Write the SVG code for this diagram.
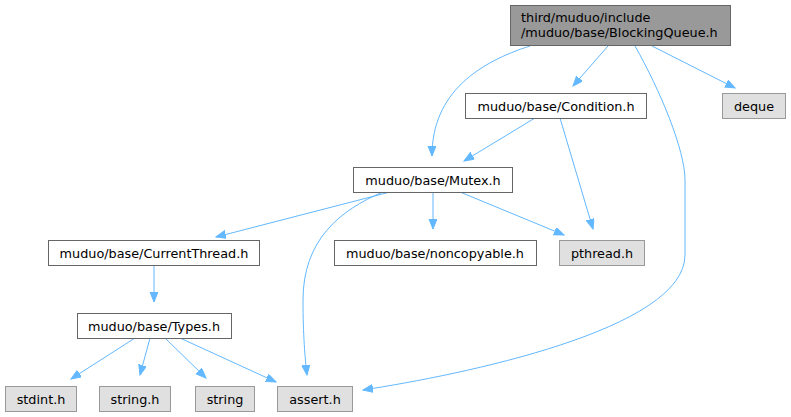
<svg xmlns="http://www.w3.org/2000/svg" width="791" height="417" viewBox="0 0 791 417">
<style>
text{font-family:"DejaVu Sans",sans-serif;font-size:12.8px;fill:#000}
.n rect{fill:#fff;stroke:#666;stroke-width:1}
.s rect{fill:#e0e0e0;stroke:#999;stroke-width:1}
.e path{fill:none;stroke:#63b8ff;stroke-width:1}
</style>
<defs>
<marker id="a" markerUnits="userSpaceOnUse" markerWidth="11" markerHeight="9" refX="10" refY="4" orient="auto">
<path d="M0,0 L10,4 L0,8 z" fill="#63b8ff" stroke="#63b8ff"/>
</marker>
</defs>
<g class="e" id="edges">
<path d="M530,46 C480,62 432,92 432,156" marker-end="url(#a)"/>
<path d="M608,46 L573,86" marker-end="url(#a)"/>
<path d="M635,46 C660,90 685,150 685,180 L685,255 C685,330 460,375 363,390" marker-end="url(#a)"/>
<path d="M652,46 L735,88" marker-end="url(#a)"/>
<path d="M535,118 L464,161" marker-end="url(#a)"/>
<path d="M560,118 L593,229" marker-end="url(#a)"/>
<path d="M390,192 L216,237" marker-end="url(#a)"/>
<path d="M433,192 L433,229" marker-end="url(#a)"/>
<path d="M460,192 L564,235" marker-end="url(#a)"/>
<path d="M383,192 C340,210 303,240 303,300 C303,335 305,358 307,375" marker-end="url(#a)"/>
<path d="M154,265 L154,302" marker-end="url(#a)"/>
<path d="M135,338 L71,379" marker-end="url(#a)"/>
<path d="M150,338 L140,375" marker-end="url(#a)"/>
<path d="M165,338 L206,378" marker-end="url(#a)"/>
<path d="M180,338 L276,382" marker-end="url(#a)"/>
</g>
<g id="blockingqueue"><rect x="510.5" y="5.5" width="220" height="40" fill="#999" stroke="#666"/><text x="521" y="22">third/muduo/include</text><text x="521" y="36.5">/muduo/base/BlockingQueue.h</text></g>
<g id="condition" class="n"><rect x="465.5" y="93.5" width="181" height="25"/><text x="556" y="110.5" text-anchor="middle">muduo/base/Condition.h</text></g>
<g id="deque" class="s"><rect x="722.5" y="93.5" width="63" height="25"/><text x="754" y="110.5" text-anchor="middle">deque</text></g>
<g id="mutex" class="n"><rect x="353.5" y="167.5" width="159" height="25"/><text x="433" y="184.5" text-anchor="middle">muduo/base/Mutex.h</text></g>
<g id="currentthread" class="n"><rect x="48.5" y="240.5" width="211" height="25"/><text x="154" y="257.5" text-anchor="middle">muduo/base/CurrentThread.h</text></g>
<g id="noncopyable" class="n"><rect x="334.5" y="240.5" width="202" height="25"/><text x="435" y="257.5" text-anchor="middle">muduo/base/noncopyable.h</text></g>
<g id="pthread" class="s"><rect x="559.5" y="240.5" width="85" height="25"/><text x="602" y="257.5" text-anchor="middle">pthread.h</text></g>
<g id="types" class="n"><rect x="77.5" y="313.5" width="154" height="25"/><text x="154" y="330.5" text-anchor="middle">muduo/base/Types.h</text></g>
<g id="stdint" class="s"><rect x="5.5" y="386.5" width="71" height="25"/><text x="41" y="403.5" text-anchor="middle">stdint.h</text></g>
<g id="stringh" class="s"><rect x="99.5" y="386.5" width="71" height="25"/><text x="135" y="403.5" text-anchor="middle">string.h</text></g>
<g id="string" class="s"><rect x="195.5" y="386.5" width="59" height="25"/><text x="225" y="403.5" text-anchor="middle">string</text></g>
<g id="assert" class="s"><rect x="277.5" y="386.5" width="75" height="25"/><text x="315" y="403.5" text-anchor="middle">assert.h</text></g>
</svg>
